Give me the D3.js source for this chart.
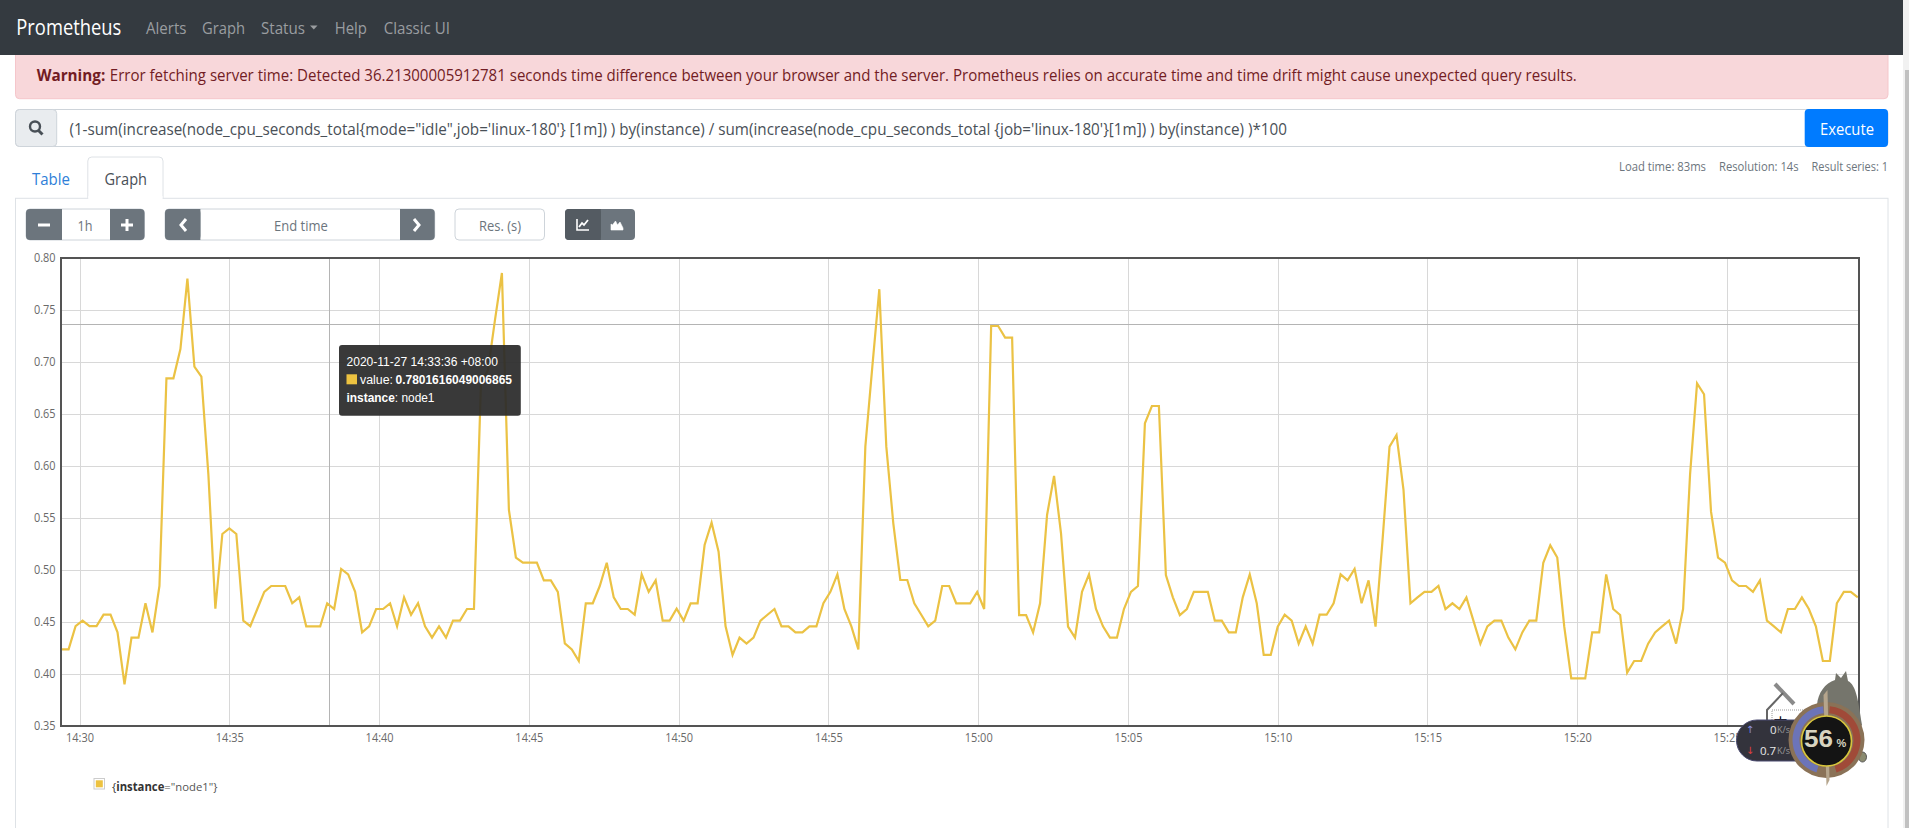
<!DOCTYPE html>
<html><head><meta charset="utf-8"><title>Prometheus</title>
<script src="https://cdn.jsdelivr.net/npm/d3@7/dist/d3.min.js"></script>
<style>html,body{margin:0;padding:0;background:#fff;overflow:hidden}svg{display:block}</style>
</head><body><div id="chart"></div>
<script>
// one sample every 14 s, starting 14:29:24
const sampleStepSeconds = 14;
const firstSample = Date.UTC(2020,10,27,14,29,24);
const domainEnd = Date.UTC(2020,10,27,15,29,22);
const cpuValues = [
.4237,.4237,.446,.4513,.446,.446,.457,.457,.440,.390,.435,.435,.468,.440,.4846,.6843,.6843,.7125,.7802,.6955,
.686,.592,.4628,.5346,.540,.5346,.4513,.446,.4625,.479,.4846,.4846,.4846,.468,.4737,.4458,.4458,.4458,.468,.4625,
.501,.4958,.479,.440,.4458,.4625,.4625,.468,.4458,.4737,.457,.468,.4458,.435,.4458,.435,.4513,.4513,.4625,.4625,
.679,.692,.74,.7856,.5577,.512,.507,.507,.507,.490,.490,.479,.4295,.4237,.4125,.468,.468,.4846,.507,.4737,
.4625,.4625,.457,.4958,.479,.490,.4513,.4513,.4628,.4513,.468,.468,.524,.5455,.5176,.4458,.4183,.435,.4292,.435,
.4513,.457,.4625,.4458,.4458,.440,.440,.4458,.4458,.468,.479,.4958,.4625,.4458,.4237,.6186,.6955,.77,.6186,.5449,
.4904,.4904,.468,.457,.4458,.4513,.4846,.4846,.468,.468,.468,.479,.4625,.7346,.7346,.7234,.7234,.4567,.4567,.440,
.468,.5529,.5904,.535,.4455,.435,.479,.4958,.4625,.4458,.435,.435,.4625,.479,.4846,.641,.6577,.6577,.4952,.4737,
.4567,.4625,.479,.479,.479,.4513,.4513,.440,.440,.4737,.4958,.468,.4183,.4183,.4455,.457,.4513,.4292,.4458,.4292,
.457,.457,.468,.4958,.490,.501,.468,.490,.4455,.5288,.6186,.6298,.577,.468,.4737,.479,.479,.4846,.4625,.468,
.4625,.4737,.4513,.4292,.4458,.4513,.4513,.435,.4237,.440,.4513,.4513,.507,.5237,.512,.4455,.3958,.3958,.3958,.440,
.440,.4958,.4625,.4567,.4013,.4125,.4125,.4292,.440,.4458,.4513,.4292,.4625,.5917,.6795,.669,.5561,.512,.507,.490,
.4846,.4846,.479,.490,.4513,.4458,.440,.4625,.4625,.4737,.4625,.4458,.4125,.4125,.468,.479,.479,.4737];
const yTickValues = [0.35,0.40,0.45,0.50,0.55,0.60,0.65,0.70,0.75,0.80];
const xTickTimes = [30,35,40,45,50,55,60,65,70,75,80,85].map(m => Date.UTC(2020,10,27,14,m));
const seriesName = 'node1';
const tooltipTime = '2020-11-27 14:33:36 +08:00';
const tooltipValue = '0.7801616049006865';
const crosshairTime = Date.UTC(2020,10,27,14,38,20);
const crosshairValue = 0.7356;
const queryText = `(1-sum(increase(node_cpu_seconds_total{mode="idle",job='linux-180'} [1m]) ) by(instance) / sum(increase(node_cpu_seconds_total {job='linux-180'}[1m]) ) by(instance) )*100`;
const warningText = 'Error fetching server time: Detected 36.21300005912781 seconds time difference between your browser and the server. Prometheus relies on accurate time and time drift might cause unexpected query results.';
const navItems = [['Alerts',146,40.5],['Graph',202,43],['Status',261,44],['Help',334.7,32.3],['Classic UI',383.7,66.3]];

const W=1909,H=828, UI='"Open Sans",sans-serif', TIP='"Liberation Sans",Arial,sans-serif';
const svg=d3.select('#chart').append('svg').attr('width',W).attr('height',H).attr('viewBox',`0 0 ${W} ${H}`);
function rect(x,y,w,h,fill,opt={}){const r=svg.append('rect').attr('x',x).attr('y',y).attr('width',w).attr('height',h).attr('fill',fill);
  if(opt.rx)r.attr('rx',opt.rx); if(opt.stroke)r.attr('stroke',opt.stroke); if(opt.op!=null)r.attr('fill-opacity',opt.op); return r;}
function text(x,y,s,size,fill,opt={}){const t=svg.append('text').attr('x',x).attr('y',y).attr('font-family',opt.font||UI).attr('font-size',size).attr('fill',fill)
  .attr('dominant-baseline','central').attr('font-weight',opt.weight||400).text(s);
  if(opt.len)t.attr('textLength',opt.len).attr('lengthAdjust','spacingAndGlyphs'); if(opt.anchor)t.attr('text-anchor',opt.anchor); return t;}
function path(d,stroke,sw,fill='none'){return svg.append('path').attr('d',d).attr('stroke',stroke).attr('stroke-width',sw).attr('fill',fill);}

// page chrome: alert sits under the nav
rect(15.5,40,1872.5,58.7,'#f8d7da',{rx:4,stroke:'#f5c6cb'});
rect(0,0,1903,55,'#343a40');
rect(1903,0,6,H,'#f1f1f1'); rect(1905,70,4,H-70,'#c1c1c1');
text(16.3,26.5,'Prometheus',21,'#fff',{len:105});
navItems.forEach(([s,x,l])=>text(x,27.5,s,16.5,'#9a9da0',{len:l}));
path('M310 25.5h7.5l-3.75 4z','none',0,'#9a9da0');
text(36.7,74.5,'Warning:',16.5,'#721c24',{weight:700,len:68.6});
text(109.8,74.5,warningText,16.5,'#721c24',{len:1467});

// query row
rect(15.5,109.5,1872.5,37,'#fff',{rx:4,stroke:'#ced4da'});
rect(15.5,109.5,41.2,37,'#e9ecef',{rx:4,stroke:'#ced4da'});
svg.append('circle').attr('cx',35).attr('cy',126.5).attr('r',5).attr('fill','none').attr('stroke','#495057').attr('stroke-width',2.4);
path('M38.5 130.5L42.5 134.5','#495057',3);
text(69.4,128,queryText,16.5,'#495057',{len:1217.6});
rect(1804.7,109,83.3,38,'#007bff',{rx:4});
text(1820,128,'Execute',16.5,'#fff',{len:54});
text(1619,166.7,'Load time: 83ms',12.5,'#6c757d',{len:87});
text(1719,166.7,'Resolution: 14s',12.5,'#6c757d',{len:79.6});
text(1811.6,166.7,'Result series: 1',12.5,'#6c757d',{len:76.4});

// tabs and panel
rect(15.5,198.3,1872.5,640,'#fff',{stroke:'#dee2e6'});
path('M87.8 198.3V161a4 4 0 0 1 4-4H159a4 4 0 0 1 4 4V198.3','#dee2e6',1,'#fff');
rect(88.3,196,74.2,4,'#fff');
text(32,178.7,'Table',16.5,'#2f7fd8',{len:38});
text(104.5,178.7,'Graph',16.5,'#495057',{len:42.5});

// toolbar
rect(26,209,118.5,31,'#fff',{rx:4,stroke:'#ced4da'});
rect(26,209,36,31,'#6c757d',{rx:4}); rect(110,209,34.5,31,'#6c757d',{rx:4});
rect(55,209,7,31,'#6c757d'); rect(110,209,7,31,'#6c757d');
path('M38 225h12','#fff',3); path('M121 225h12M127 219v12','#fff',3);
text(85,225,'1h',15,'#6c757d',{anchor:'middle',len:15});
rect(165,209,269.7,31,'#fff',{rx:4,stroke:'#ced4da'});
rect(165,209,35.4,31,'#6c757d',{rx:4}); rect(400,209,34.7,31,'#6c757d',{rx:4});
rect(193,209,7.4,31,'#6c757d'); rect(400,209,7,31,'#6c757d');
path('M186 219l-5 6 5 6','#fff',3); path('M414 219l5 6-5 6','#fff',3);
text(274,225,'End time',15,'#6c757d',{len:53.8});
rect(455,209,89.5,31,'#fff',{rx:4,stroke:'#ced4da'});
text(479,225,'Res. (s)',15,'#6c757d',{len:42});
rect(565,209,70,31,'#6c757d',{rx:4});
rect(565,209,35.8,31,'#545b62',{rx:4}); rect(595,209,5.8,31,'#545b62');
path('M577 219v11h12','#fff',1.6); path('M579 227l3-4 2 2 4-5','#fff',1.8);
path('M611 230h12v-2l-3-6-2.5 3-2-4-3 4-1.5-1z','#fff',.6,'#fff');

// chart
const x=d3.scaleUtc().domain([firstSample,domainEnd]).range([61.6,1857.8]);
const y=d3.scaleLinear().domain([0.35,0.80]).range([726,258]);
const times=cpuValues.map((_,i)=>firstSample+i*sampleStepSeconds*1000);
const L=61.6,R=1859,T=258,B=726;
const gridY=svg.append('g').attr('transform',`translate(${L},0)`).call(d3.axisLeft(y).tickValues(yTickValues).tickSize(-(R-L)).tickFormat(d3.format('.2f')).tickPadding(6));
const gridX=svg.append('g').attr('transform',`translate(0,${B})`).call(d3.axisBottom(x).tickValues(xTickTimes).tickSize(-(B-T)).tickFormat(d3.utcFormat('%H:%M')).tickPadding(7));
[gridY,gridX].forEach(g=>{g.select('.domain').remove();g.selectAll('line').attr('stroke','#d8d8d8').attr('stroke-width',1).attr('shape-rendering','crispEdges');
  g.selectAll('text').attr('font-family',UI).attr('font-size',12).attr('fill','#6a6a6a').attr('lengthAdjust','spacingAndGlyphs');});
gridY.selectAll('text').attr('textLength',21.6);
gridX.selectAll('text').attr('textLength',28);
const hair=svg.append('g').attr('stroke','#b4b4b4').attr('stroke-width',1).attr('shape-rendering','crispEdges');
hair.append('line').attr('x1',L).attr('x2',R).attr('y1',y(crosshairValue)).attr('y2',y(crosshairValue));
hair.append('line').attr('x1',x(crosshairTime)).attr('x2',x(crosshairTime)).attr('y1',T).attr('y2',B);
svg.append('path').datum(cpuValues).attr('fill','none').attr('stroke','#ebc244').attr('stroke-width',2.2).attr('stroke-linejoin','miter')
  .attr('d',d3.line().x((d,i)=>x(times[i])).y(d=>y(d)));
rect(L-.6,T,R-L+.6,B-T,'none',{stroke:'#545454'}).attr('stroke-width',2);

// legend
rect(94,778.5,10.5,10.5,'#fff',{stroke:'#ccc'}); rect(95.8,780.3,7,7,'#edc240');
const lg=text(112,785.5,'',11.5,'#333',{len:105.5});
lg.append('tspan').text('{');lg.append('tspan').attr('font-weight',700).text('instance');lg.append('tspan').attr('fill','#555').text(`="${seriesName}"}`);

// tooltip
rect(339,345,181.8,70.7,'#2a2a2a',{rx:3,op:.93});
text(346.5,361.7,tooltipTime,12.5,'#fff',{font:TIP,len:151.5});
rect(346.5,374.3,10.5,10,'#edc240');
text(360,379.7,'value:',12.5,'#fff',{font:TIP,len:33});
text(395.5,379.7,tooltipValue,12.5,'#fff',{font:TIP,weight:700,len:116.5});
const tip3=text(346.5,397.7,'',12.5,'#fff',{font:TIP,len:88});
tip3.append('tspan').attr('font-weight',700).text('instance');tip3.append('tspan').text(`: ${seriesName}`);

// desktop monitor widget over the corner of the plot
path('M1794 704L1775 684','#8a8a8a',4); path('M1767 722v-12l16-17','#666',2);
rect(1772,710,32,14,'#fff',{stroke:'#999'}).attr('stroke-dasharray','1 1');
text(1773,722,'中',15,'#000',{font:'"Noto Sans CJK SC"'});
const pill=d3.path();pill.moveTo(1800,720);pill.lineTo(1757,720);pill.arc(1757,740.5,20.5,-Math.PI/2,Math.PI/2,true);pill.lineTo(1800,761);pill.closePath();
path(pill.toString(),'#4a4a70',1,'#33333c');
text(1750,729,'↑',10,'#8a8fe0',{anchor:'middle',font:'"DejaVu Sans"'});
text(1750,750,'↓',10,'#e04040',{anchor:'middle',font:'"DejaVu Sans"'});
text(1770,729,'0',11.5,'#e8e8e8'); text(1777,729,'K/s',9,'#999');
text(1760,750,'0.7',11.5,'#e8e8e8'); text(1777,750,'K/s',9,'#999');
path('M1817 705c1-12 8-22 18-25l1-7 5 5 5-7 2 10c8 4 10 18 14 44l-10 10z','none',0,'#75756c');
path('M1862 752a4 5 0 1 0 1 0z','#555',1,'#8b8b70');
const cx=1826.5,cy=740;
svg.append('circle').attr('cx',cx).attr('cy',cy).attr('r',38).attr('fill','#8a7257');
const arc=d3.arc();
svg.append('path').attr('transform',`translate(${cx},${cy})`).attr('fill','#6c74b8').attr('d',arc({innerRadius:27,outerRadius:34,startAngle:-Math.PI+.3,endAngle:-.1}));
svg.append('path').attr('transform',`translate(${cx},${cy})`).attr('fill','#a04a38').attr('d',arc({innerRadius:27,outerRadius:34,startAngle:.1,endAngle:Math.PI-.3}));
path(`M${cx-3} 695L${cx+1} 690L${cx+3} 780L${cx} 786z`,'none',0,'#b5a58c');
svg.append('circle').attr('cx',cx).attr('cy',cy+1).attr('r',25).attr('fill','#141414').attr('stroke','#d8c63c').attr('stroke-width',1.6);
text(1804,739,'56',23,'#d8d4c0',{font:TIP,weight:700,len:29});
text(1836.5,743,'%',11,'#d8d4c0',{font:TIP,weight:700});
</script></body></html>
